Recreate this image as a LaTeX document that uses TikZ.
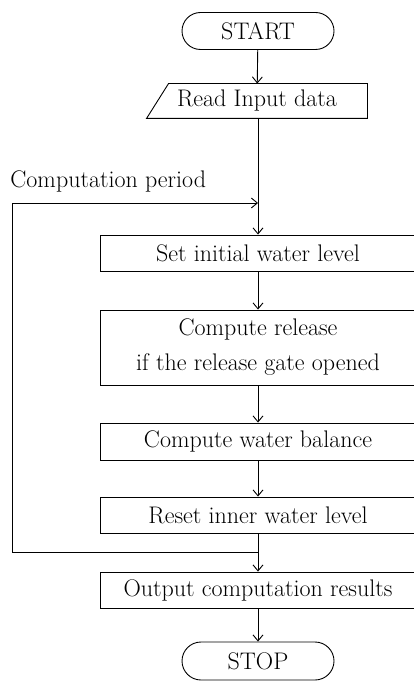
\documentclass[tikz,border=0pt]{standalone}
\usetikzlibrary{shapes.misc,arrows.meta,calc}
\begin{document}
\begin{tikzpicture}[x=1pt,y=-1pt,
  every node/.style={font=\fontsize{24}{35}\selectfont},
  line width=0.9pt,
  arr/.style={-{Straight Barb[length=6pt,width=10pt]}},
  term/.style={draw,rounded rectangle,minimum width=152pt,minimum height=37pt,inner sep=0pt},
  procbox/.style={draw,rectangle,minimum width=316pt,inner sep=0pt,align=center}]
\useasboundingbox (0,0) rectangle (414,684);
\clip (0,0) rectangle (414,684);
\node[term] (start) at (258,31) {START};
\node[minimum width=220pt,minimum height=34pt,inner sep=0pt] (read) at (257,101) {Read Input data};
\draw ($(read.north west)+(22,0)$) -- (read.north east) -- (read.south east) -- (read.south west) -- cycle;
\node[procbox,minimum height=36pt] (set) at (258,253) {Set initial water level};
\node[procbox,minimum height=75pt] (rel) at (258,347.5) {Compute release\\if the release gate opened};
\node[procbox,minimum height=37pt] (bal) at (258,441.5) {Compute water balance};
\node[procbox,minimum height=36pt] (reset) at (258,515) {Reset inner water level};
\node[procbox,minimum height=36pt] (out) at (258,590) {Output computation results};
\node[term,minimum height=38pt] (stop) at (258,661) {STOP};
\node[anchor=west,inner sep=0pt] (period) at (10,181) {Computation period};
\coordinate (lt) at (258,203);
\coordinate (lb) at (258,552);
\coordinate (ltl) at (12,203);
\coordinate (lbl) at (12,552);
\draw[arr] (start) -- (read);
\draw[arr] (read.south -| start) -- (set);
\draw[arr] (set) -- (rel);
\draw[arr] (rel) -- (bal);
\draw[arr] (bal) -- (reset);
\draw[arr] (reset) -- (out);
\draw[arr] (out) -- (stop);
\draw[arr] (lb) -- (lbl) -- (ltl) -- (lt);
\end{tikzpicture}
\end{document}
